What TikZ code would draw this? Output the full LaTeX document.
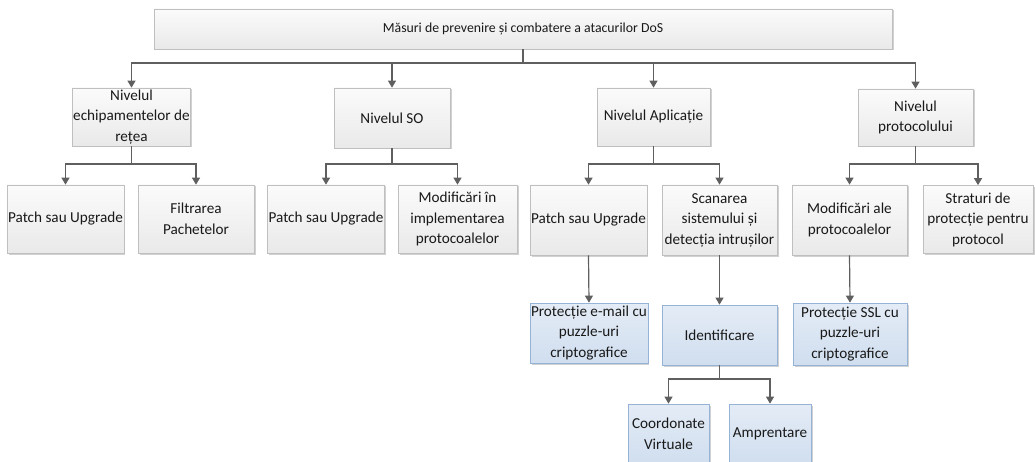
\documentclass[tikz,border=0pt]{standalone}
\usepackage{fontspec}
\setmainfont{Carlito}
\usetikzlibrary{arrows.meta,shadows}

\definecolor{boxline}{HTML}{BFBFBF}
\definecolor{boxtop}{HTML}{FBFBFB}
\definecolor{boxbot}{HTML}{E9E9E9}
\definecolor{blueline}{HTML}{95B3D7}
\definecolor{bluetop}{HTML}{E4ECF6}
\definecolor{bluebot}{HTML}{D0DEEF}
\definecolor{linkgray}{HTML}{5F5F5F}

\begin{document}
\begin{tikzpicture}[x=1pt,y=-1pt,
  graybox/.style={draw=boxline, line width=0.7pt, top color=boxtop, bottom color=boxbot,
    align=center, inner sep=1pt, text=black!90,
    font=\fontsize{15.2}{20.5}\selectfont,
    drop shadow={shadow xshift=1.5pt, shadow yshift=-1.5pt, fill=black, opacity=0.18}},
  bluebox/.style={graybox, draw=blueline, top color=bluetop, bottom color=bluebot},
  link/.style={draw=linkgray, line width=1.2pt, -{Triangle[length=7pt,width=8pt]}}]
\useasboundingbox (0,0) rectangle (1035,462);
\clip (0,0) rectangle (1035,462);

% root
\node[graybox, font=\fontsize{13.8}{18}\selectfont, minimum width=738pt, minimum height=40pt] (root) at (523,29)
  {Măsuri de prevenire și combatere a atacurilor DoS};

% first level
\node[graybox, minimum width=113pt, minimum height=58pt] (net) at (131.5,117)
  {Nivelul\\echipamentelor de\\rețea};
\node[graybox, minimum width=116pt, minimum height=60pt] (os) at (392,118) {Nivelul SO};
\node[graybox, minimum width=113pt, minimum height=58pt] (app) at (653.5,117) {Nivelul Aplicație};
\node[graybox, minimum width=115pt, minimum height=57pt] (proto) at (915.5,117.5) {Nivelul\\protocolului};

% second level
\node[graybox, minimum width=115pt, minimum height=68pt] (netpatch) at (65.5,219) {Patch sau Upgrade};
\node[graybox, minimum width=116pt, minimum height=68pt] (netfilter) at (196,219) {Filtrarea\\Pachetelor};
\node[graybox, minimum width=114pt, minimum height=68pt] (ospatch) at (326,219) {Patch sau Upgrade};
\node[graybox, minimum width=119pt, minimum height=68pt] (osimpl) at (457.5,219) {Modificări în\\implementarea\\protocoalelor};
\node[graybox, minimum width=115pt, minimum height=70pt] (apppatch) at (588.5,220) {Patch sau Upgrade};
\node[graybox, minimum width=115pt, minimum height=70pt] (appscan) at (719.5,220) {Scanarea\\sistemului și\\detecția intrușilor};
\node[graybox, minimum width=115pt, minimum height=70pt] (protomod) at (849.5,220) {Modificări ale\\protocoalelor};
\node[graybox, minimum width=110pt, minimum height=68pt] (protolayer) at (978,219.5) {Straturi de\\protecție pentru\\protocol};

% third level
\node[bluebox, minimum width=114pt, minimum height=60pt] (mail) at (589,333) {Protecție e-mail cu\\puzzle-uri\\criptografice};
\node[bluebox, minimum width=115pt, minimum height=60pt] (ident) at (719.5,335) {Identificare};
\node[bluebox, minimum width=114pt, minimum height=62pt] (ssl) at (850,334) {Protecție SSL cu\\puzzle-uri\\criptografice};

% fourth level (running off the lower edge)
\node[bluebox, minimum width=81pt, minimum height=60pt] (coord) at (668.5,434) {Coordonate\\Virtuale};
\node[bluebox, minimum width=82pt, minimum height=60pt] (finger) at (770,434) {Amprentare};

% bus heights
\coordinate (bus0) at (0,63);
\coordinate (bus1) at (0,164);
\coordinate (bus2) at (0,379);

% root to first level
\foreach \n in {net,os,app,proto}
  \draw[link] (root.south) -- (root.south |- bus0) -| (\n.north);

% first to second level
\draw[link] (net.south) -- (net.south |- bus1) -| (netpatch.north);
\draw[link] (net.south) -- (net.south |- bus1) -| (netfilter.north);
\draw[link] (os.south) -- (os.south |- bus1) -| (ospatch.north);
\draw[link] (os.south) -- (os.south |- bus1) -| (osimpl.north);
\draw[link] (app.south) -- (app.south |- bus1) -| (apppatch.north);
\draw[link] (app.south) -- (app.south |- bus1) -| (appscan.north);
\draw[link] (proto.south) -- (proto.south |- bus1) -| (protomod.north);
\draw[link] (proto.south) -- (proto.south |- bus1) -| (protolayer.north);

% second to third level
\draw[link] (apppatch.south) -- (mail.north);
\draw[link] (appscan.south) -- (ident.north);
\draw[link] (protomod.south) -- (ssl.north);

% third to fourth level
\draw[link] (ident.south) -- (ident.south |- bus2) -| (coord.north);
\draw[link] (ident.south) -- (ident.south |- bus2) -| (finger.north);
\end{tikzpicture}
\end{document}
